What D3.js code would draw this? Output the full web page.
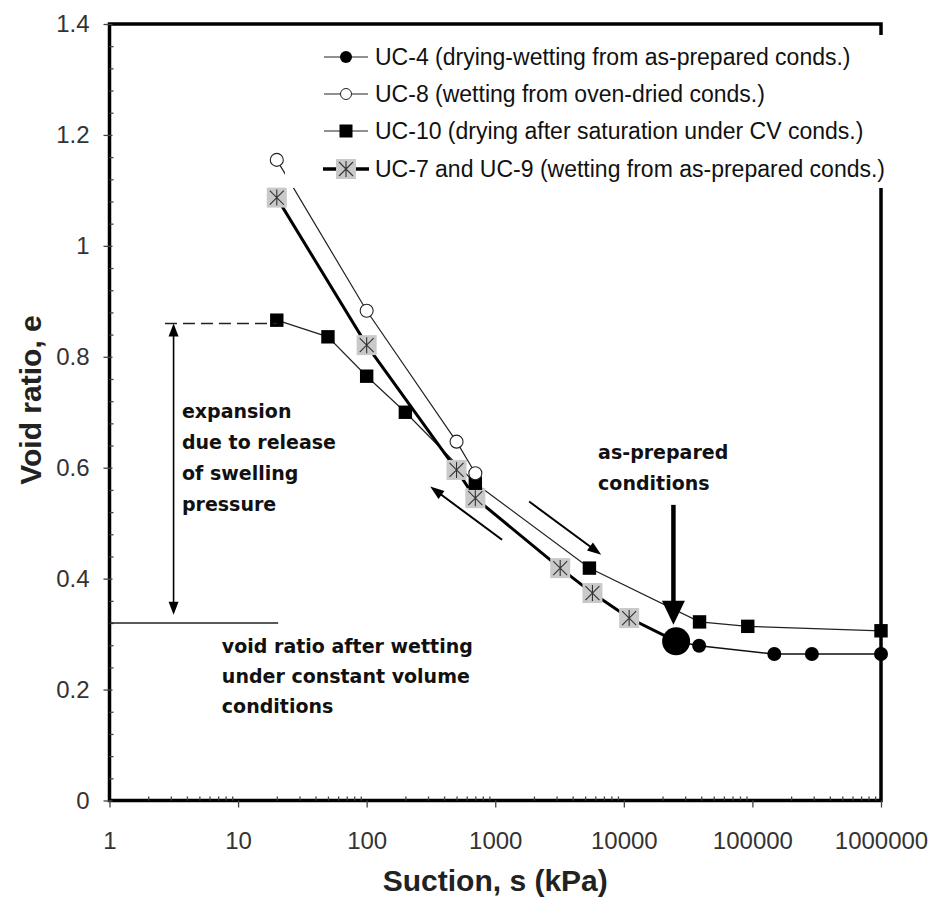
<!DOCTYPE html>
<html>
<head>
<meta charset="utf-8">
<script src="https://cdn.jsdelivr.net/npm/d3@7"></script>
<style>
  html, body { margin: 0; padding: 0; background: #fff; overflow: hidden; }
  svg { display: block; }
</style>
</head>
<body>
<div id="plot"></div>
<script>
// values
const suctionTicks = [1, 10, 100, 1000, 10000, 100000, 1000000];
const ratioTicks = [0, 0.2, 0.4, 0.6, 0.8, 1, 1.2, 1.4];

// as-prepared conditions (big dot)
const asPrepared = [25500, 0.287];

const uc4Suction = [25500, 38500, 148000, 290000, 1000000];
const uc4Ratio = [0.287, 0.279, 0.264, 0.264, 0.264];

const uc8Suction = [20, 100, 500, 700];
const uc8Ratio = [1.155, 0.883, 0.647, 0.590];

const uc10Suction = [20, 50, 100, 200, 700, 5400, 38800, 92000, 1000000];
const uc10Ratio = [0.866, 0.836, 0.765, 0.700, 0.572, 0.419, 0.322, 0.314, 0.306];

const uc79Suction = [20, 100, 500, 700, 3200, 5700, 11000];
const uc79Ratio = [1.087, 0.821, 0.596, 0.545, 0.419, 0.374, 0.329];

const legendLabels = [
  "UC-4 (drying-wetting from as-prepared conds.)",
  "UC-8 (wetting from oven-dried conds.)",
  "UC-10 (drying after saturation under CV conds.)",
  "UC-7 and UC-9 (wetting from as-prepared conds.)"
];

// Width and height
const w = 932;
const h = 901;
const margin = {top: 24, right: 51, bottom: 100.5, left: 109.5};
const innerWidth = w - margin.left - margin.right;
const innerHeight = h - margin.top - margin.bottom;

const svg = d3.select("div#plot")
  .append("svg")
    .attr("width", w)
    .attr("height", h);

svg.append("rect")
  .attr("width", w)
  .attr("height", h)
  .attr("fill", "#fff");

// frame
svg.append("rect")
  .attr("x", margin.left)
  .attr("y", margin.top)
  .attr("width", innerWidth)
  .attr("height", innerHeight)
  .attr("fill", "none")
  .attr("stroke", "#000")
  .attr("stroke-width", 3.5);

const plot = svg.append("g")
  .attr("id", "plot")
  .attr("transform", `translate(${margin.left}, ${margin.top})`);

const xScale = d3.scaleLog()
  .domain([1, 1000000])
  .range([0, innerWidth]);

const yScale = d3.scaleLinear()
  .domain([0, 1.4])
  .range([innerHeight, 0]);

const zip = (xs, ys) => xs.map((x, i) => [x, ys[i]]);
const uc4 = zip(uc4Suction, uc4Ratio);
const uc8 = zip(uc8Suction, uc8Ratio);
const uc10 = zip(uc10Suction, uc10Ratio);
const uc79 = zip(uc79Suction, uc79Ratio);

// minor ticks
const minorX = [];
suctionTicks.slice(0, -1).forEach(d => {
  for (let k = 2; k <= 9; k++) minorX.push(d * k);
});
const minorY = d3.range(0, 1.4001, 0.04).filter(v => Math.abs(v / 0.2 - Math.round(v / 0.2)) > 0.01);

// x axis
plot.append("g")
  .attr("transform", `translate(0, ${innerHeight})`)
  .call(d3.axisBottom(xScale).tickValues(minorX).tickSize(-4).tickFormat(""))
  .call(g => g.select(".domain").remove())
  .call(g => g.selectAll("text").remove())
  .call(g => g.selectAll("line").attr("stroke", "#444").attr("stroke-width", 1.3));

plot.append("g")
  .attr("id", "xaxis")
  .attr("transform", `translate(0, ${innerHeight})`)
  .call(d3.axisBottom(xScale).tickValues(suctionTicks).tickSize(7).tickPadding(24)
    .tickFormat(d3.format("d")))
  .call(g => g.select(".domain").remove())
  .call(g => g.selectAll("line").attr("stroke", "#444").attr("stroke-width", 1.3))
  .call(g => g.selectAll("text")
    .attr("font-family", "'Liberation Sans', Arial, sans-serif")
    .attr("font-size", "24px")
    .attr("fill", "#333"));

// y axis
plot.append("g")
  .call(d3.axisLeft(yScale).tickValues(minorY).tickSize(-4).tickFormat(""))
  .call(g => g.select(".domain").remove())
  .call(g => g.selectAll("text").remove())
  .call(g => g.selectAll("line").attr("stroke", "#444").attr("stroke-width", 1.3));

plot.append("g")
  .attr("id", "yaxis")
  .call(d3.axisLeft(yScale).tickValues(ratioTicks).tickSize(6).tickPadding(14)
    .tickFormat(d3.format("~g")))
  .call(g => g.select(".domain").remove())
  .call(g => g.selectAll("line").attr("stroke", "#444").attr("stroke-width", 1.3).attr("x2", -6).attr("x1", 3))
  .call(g => g.selectAll("text")
    .attr("font-family", "'Liberation Sans', Arial, sans-serif")
    .attr("font-size", "24px")
    .attr("fill", "#333"));

// series lines
const line = d3.line()
  .x(d => xScale(d[0]))
  .y(d => yScale(d[1]));

plot.append("path").datum(uc10)
  .attr("d", line).attr("fill", "none").attr("stroke", "#222").attr("stroke-width", 1.2);
plot.append("path").datum(uc8)
  .attr("d", line).attr("fill", "none").attr("stroke", "#222").attr("stroke-width", 1.2);
plot.append("path").datum(uc4)
  .attr("d", line).attr("fill", "none").attr("stroke", "#111").attr("stroke-width", 1.6);
plot.append("path").datum(uc79.concat([asPrepared]))
  .attr("d", line).attr("fill", "none").attr("stroke", "#000").attr("stroke-width", 3);

// markers
function star(g) {
  g.append("rect").attr("x", -10).attr("y", -10).attr("width", 20).attr("height", 20)
    .attr("fill", "#c9c9c9");
  g.append("path")
    .attr("d", "M0,-8V8M-7,-7L7,7M-7,7L7,-7")
    .attr("stroke", "#333").attr("stroke-width", 1.1);
}

plot.selectAll("g.uc79")
  .data(uc79)
  .enter()
  .append("g")
    .attr("class", "uc79")
    .attr("transform", d => `translate(${xScale(d[0])}, ${yScale(d[1])})`)
    .each(function() { star(d3.select(this)); });

plot.selectAll("rect.uc10")
  .data(uc10)
  .enter()
  .append("rect")
    .attr("class", "uc10")
    .attr("x", d => xScale(d[0]) - 6.7)
    .attr("y", d => yScale(d[1]) - 6.7)
    .attr("width", 13.4)
    .attr("height", 13.4)
    .attr("fill", "#000");

plot.selectAll("circle.uc8")
  .data(uc8)
  .enter()
  .append("circle")
    .attr("class", "uc8")
    .attr("cx", d => xScale(d[0]))
    .attr("cy", d => yScale(d[1]))
    .attr("r", 6.5)
    .attr("fill", "#fff")
    .attr("stroke", "#222")
    .attr("stroke-width", 1.1);

plot.selectAll("circle.uc4")
  .data(uc4)
  .enter()
  .append("circle")
    .attr("class", "uc4")
    .attr("cx", d => xScale(d[0]))
    .attr("cy", d => yScale(d[1]))
    .attr("r", (d, i) => i === 0 ? 14 : 7)
    .attr("fill", "#000");

// legend (white box hides part of the right border)
const legend = svg.append("g").attr("id", "legend");
legend.append("rect")
  .attr("x", 285).attr("y", 35)
  .attr("width", 620).attr("height", 153)
  .attr("fill", "#fff");

const rowY = [57, 94, 131, 169];
legendLabels.forEach((label, i) => {
  const row = legend.append("g").attr("transform", `translate(346, ${rowY[i]})`);
  if (i < 3) {
    row.append("line").attr("x1", -22).attr("x2", 22)
      .attr("stroke", "#222").attr("stroke-width", 1.2);
  } else {
    row.append("line").attr("x1", -23).attr("x2", 23)
      .attr("stroke", "#000").attr("stroke-width", 3.5);
  }
  if (i === 0) row.append("circle").attr("r", 6).attr("fill", "#000");
  if (i === 1) row.append("circle").attr("r", 5.5).attr("fill", "#fff").attr("stroke", "#222");
  if (i === 2) row.append("rect").attr("x", -6.5).attr("y", -6.5).attr("width", 13).attr("height", 13).attr("fill", "#000");
  if (i === 3) star(row);
  row.append("text")
    .attr("x", 29)
    .attr("y", 8)
    .attr("font-family", "'Liberation Sans', Arial, sans-serif")
    .attr("font-size", "23px")
    .attr("fill", "#111")
    .text(label);
});

// annotations (positions in data units)
const note = svg.append("g")
  .attr("transform", `translate(${margin.left}, ${margin.top})`);

function arrowHead(x1, y1, x2, y2, len, wid) {
  const a = Math.atan2(y2 - y1, x2 - x1);
  const bx = x2 - len * Math.cos(a), by = y2 - len * Math.sin(a);
  const px = -Math.sin(a) * wid / 2, py = Math.cos(a) * wid / 2;
  return `M${x2},${y2}L${bx + px},${by + py}L${bx - px},${by - py}Z`;
}

function arrow(s1, e1, s2, e2, sw, len, wid, both) {
  const x1 = xScale(s1), y1 = yScale(e1), x2 = xScale(s2), y2 = yScale(e2);
  const a = Math.atan2(y2 - y1, x2 - x1);
  note.append("line")
    .attr("x1", both ? x1 + (len - 1) * Math.cos(a) : x1)
    .attr("y1", both ? y1 + (len - 1) * Math.sin(a) : y1)
    .attr("x2", x2 - (len - 1) * Math.cos(a))
    .attr("y2", y2 - (len - 1) * Math.sin(a))
    .attr("stroke", "#000").attr("stroke-width", sw);
  note.append("path").attr("d", arrowHead(x1, y1, x2, y2, len, wid)).attr("fill", "#000");
  if (both) note.append("path").attr("d", arrowHead(x2, y2, x1, y1, len, wid)).attr("fill", "#000");
}

// dashed level before release of swelling pressure
note.append("line")
  .attr("x1", xScale(2.7)).attr("x2", xScale(20))
  .attr("y1", yScale(0.86)).attr("y2", yScale(0.86))
  .attr("stroke", "#222").attr("stroke-width", 1.4)
  .attr("stroke-dasharray", "12,6");

// void ratio after wetting under CV
note.append("line")
  .attr("x1", xScale(1)).attr("x2", xScale(20.5))
  .attr("y1", yScale(0.32)).attr("y2", yScale(0.32))
  .attr("stroke", "#222").attr("stroke-width", 1.6);

arrow(3.15, 0.86, 3.15, 0.335, 1.6, 13, 10, true);
arrow(1130, 0.47, 312, 0.566, 2, 14, 10, false);
arrow(1835, 0.539, 6670, 0.443, 2, 14, 10, false);
arrow(24300, 0.533, 24300, 0.317, 4.5, 24, 23, false);

// one text element per line
function noteText(s, e, lines, spacing) {
  lines.forEach((l, i) => {
    note.append("text")
      .attr("x", xScale(s))
      .attr("y", yScale(e) + i * spacing)
      .attr("font-family", "'DejaVu Sans', Verdana, sans-serif")
      .attr("font-weight", "bold")
      .attr("font-size", "19px")
      .attr("fill", "#111")
      .text(l);
  });
}

noteText(3.66, 0.690, ["expansion", "due to release", "of swelling", "pressure"], 31);
noteText(7.48, 0.266, ["void ratio after wetting", "under constant volume", "conditions"], 30);
noteText(6310, 0.616, ["as-prepared", "conditions"], 31);

// axis titles
svg.append("text")
  .attr("x", margin.left + innerWidth / 2)
  .attr("y", 891)
  .attr("text-anchor", "middle")
  .attr("font-family", "'Liberation Sans', Arial, sans-serif")
  .attr("font-weight", "bold")
  .attr("font-size", "30px")
  .attr("fill", "#222")
  .text("Suction, s (kPa)");

svg.append("text")
  .attr("transform", "rotate(-90)")
  .attr("x", -400)
  .attr("y", 41)
  .attr("text-anchor", "middle")
  .attr("font-family", "'Liberation Sans', Arial, sans-serif")
  .attr("font-weight", "bold")
  .attr("font-size", "30px")
  .attr("fill", "#222")
  .text("Void ratio, e");
</script>
</body>
</html>
